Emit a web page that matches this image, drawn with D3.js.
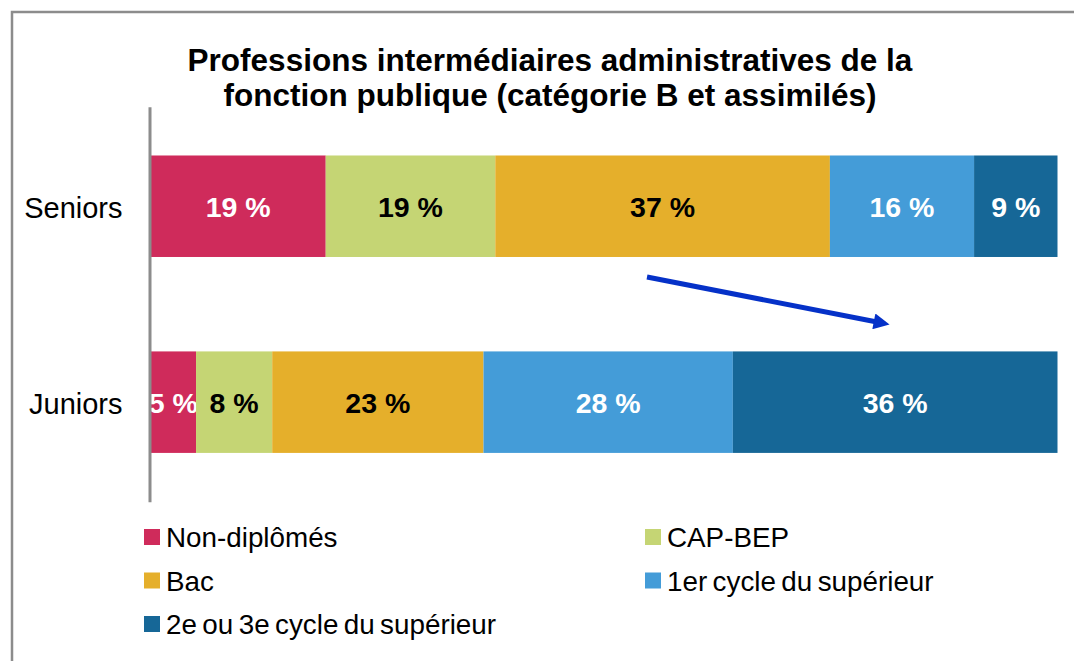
<!DOCTYPE html>
<html><head><meta charset="utf-8">
<script src="https://cdn.jsdelivr.net/npm/d3@7"></script>
<style>html,body{margin:0;padding:0;background:#fff;}svg{display:block;font-family:"Liberation Sans",Arial,sans-serif;}</style>
</head><body>
<svg id="c" width="1074" height="661"></svg>
<script>
const titleLines = ["Professions intermédiaires administratives de la", "fonction publique (catégorie B et assimilés)"];
const categories = ["Seniors", "Juniors"];
const seriesNames = ["Non-diplômés", "CAP-BEP", "Bac", "1er cycle du supérieur", "2e ou 3e cycle du supérieur"];
const seriesColors = ["#CF2B5B", "#C5D574", "#E5AF2B", "#449CD8", "#166797"];
const labelColors = ["#fff", "#000", "#000", "#fff", "#fff"];
const seniorsValues = [19.3, 18.7, 36.9, 15.9, 9.2];
const juniorsValues = [5.0, 8.4, 23.3, 27.5, 35.8];
const xDomain = [0, 100];

const svg = d3.select("#c");
const W = 1074, H = 661;

// frame
svg.append("rect").attr("x", 12).attr("y", 12).attr("width", W + 20).attr("height", H + 20)
  .attr("fill", "none").attr("stroke", "#8c8c8c").attr("stroke-width", 2.5);

// title
svg.append("text").attr("x", 550).attr("y", 71).attr("text-anchor", "middle")
  .attr("font-size", 31.5).attr("font-weight", "bold").attr("fill", "#000")
  .selectAll("tspan").data(titleLines).join("tspan")
  .attr("x", 550).attr("dy", (d, i) => i === 0 ? 0 : 35).text(d => d);

const x = d3.scaleLinear().domain(xDomain).range([150.7, 1057.5]);
const y = d3.scaleBand().domain(categories).range([106.7, 501.7]).paddingInner(0.482).paddingOuter(0.249);

const rows = [seniorsValues, juniorsValues];
const table = categories.map((c, i) => {
  const o = {cat: c};
  seriesNames.forEach((s, j) => o[s] = rows[i][j]);
  return o;
});
const stacked = d3.stack().keys(seriesNames)(table);
const fmt = d3.format(".0f");

const g = svg.append("g");
stacked.forEach((layer, j) => {
  const lg = g.append("g");
  lg.selectAll("rect").data(layer).join("rect")
    .attr("x", d => x(d[0])).attr("y", d => y(d.data.cat))
    .attr("width", d => x(d[1]) - x(d[0])).attr("height", y.bandwidth())
    .attr("fill", seriesColors[j]);
  lg.selectAll("text").data(layer).join("text")
    .attr("x", d => (x(d[0]) + x(d[1])) / 2)
    .attr("y", d => y(d.data.cat) + y.bandwidth() / 2 + 1)
    .attr("dy", "0.36em").attr("text-anchor", "middle")
    .attr("font-size", 28.5).attr("font-weight", "bold")
    .attr("fill", labelColors[j])
    .text(d => fmt(d[1] - d[0]) + " %");
});

// vertical axis
const yAxis = d3.axisLeft(y).tickSize(0).tickPadding(27);
const ag = svg.append("g").attr("transform", "translate(149.5,0)").call(yAxis);
ag.select(".domain").attr("stroke", "#8c8c8c").attr("stroke-width", 3);
ag.selectAll("text").attr("font-size", 29).attr("fill", "#000")
  .attr("font-family", "Liberation Sans, Arial, sans-serif").attr("dy", "0.42em");

// arrow
const defs = svg.append("defs");
defs.append("marker").attr("id", "ah").attr("viewBox", "0 0 10 10")
  .attr("refX", 2).attr("refY", 5).attr("markerWidth", 3.6).attr("markerHeight", 3.2)
  .attr("orient", "auto").attr("markerUnits", "strokeWidth")
  .append("path").attr("d", "M0,0 L10,5 L0,10 z").attr("fill", "#0531C8");
svg.append("line").attr("x1", 647).attr("y1", 277).attr("x2", 877).attr("y2", 322)
  .attr("stroke", "#0531C8").attr("stroke-width", 5).attr("marker-end", "url(#ah)");

// legend
const legendPos = [[144, 0], [645, 0], [144, 1], [645, 1], [144, 2]];
const lgd = svg.append("g");
seriesNames.forEach((s, j) => {
  const [lx, r] = legendPos[j];
  const cy = 537 + r * 43.5;
  lgd.append("rect").attr("x", lx).attr("y", cy - 8).attr("width", 16).attr("height", 16).attr("fill", seriesColors[j]);
  lgd.append("text").attr("x", lx + 22).attr("y", cy).attr("dy", "0.36em")
    .attr("font-size", 27.8).attr("word-spacing", -2.3).attr("fill", "#000").text(s);
});
</script>
</body></html>
